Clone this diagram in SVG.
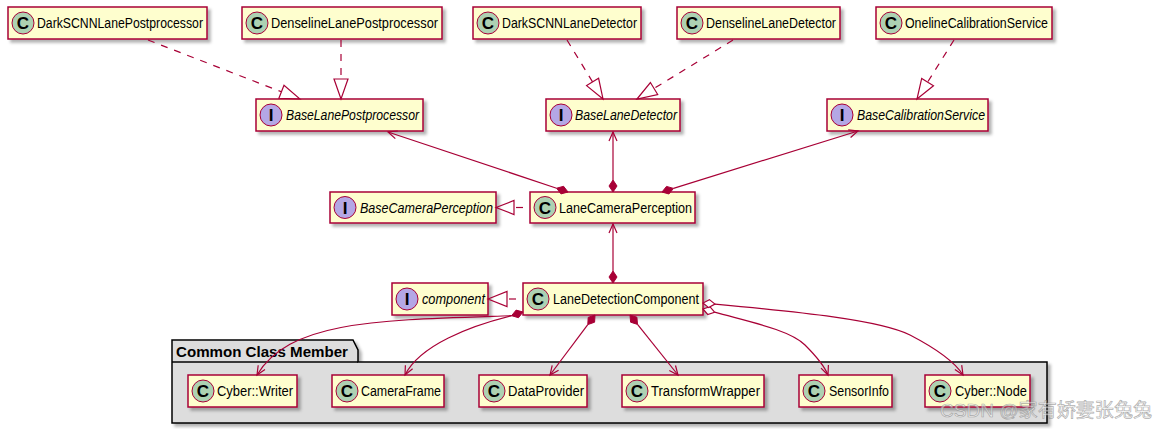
<svg xmlns="http://www.w3.org/2000/svg" width="1167" height="429" viewBox="0 0 1167 429">
<style>
.box{fill:#FEFECE;stroke:#A80036;stroke-width:1.5;filter:url(#sh)}
.sc{fill:#ADD1B2;stroke:#A80036;stroke-width:1}
.si{fill:#B4A7E5;stroke:#A80036;stroke-width:1}
.sl{font-family:"Liberation Sans",Arial,sans-serif;font-weight:bold;font-size:17px;text-anchor:middle;fill:#000}
.lb{font-family:"Liberation Sans",Arial,sans-serif;font-size:14px;fill:#000}
.it{font-style:italic}
.ln{fill:none;stroke:#A80036;stroke-width:1.2}
.da{stroke-dasharray:7 7}
.tri{fill:none;stroke:#A80036;stroke-width:1.2}
.dia{fill:#A80036;stroke:#A80036;stroke-width:1}
.hdia{fill:#FFFFFF;stroke:#A80036;stroke-width:1.2}
.pkg{fill:#DDDDDD;stroke:#000;stroke-width:1.5;filter:url(#sh)}
.pl{font-family:"Liberation Sans",Arial,sans-serif;font-weight:bold;font-size:15px;fill:#000}
</style>
<defs>
<filter id="sh" x="-10%" y="-20%" width="130%" height="160%">
<feDropShadow dx="3" dy="3" stdDeviation="1.6" flood-color="#000" flood-opacity="0.3"/>
</filter>
</defs>
<rect width="1167" height="429" fill="#FFFFFF"/>

<g id="pkg-common">
<path class="pkg" d="M172,362 L172,340 L353,340 L358,350 L358,362 L1047,362 L1047,423 L172,423 Z"/>
<line x1="172" y1="362" x2="358" y2="362" stroke="#000" stroke-width="1.5"/>
<text class="pl" x="176" y="356.5" textLength="172" lengthAdjust="spacingAndGlyphs">Common Class Member</text>
</g>

<g id="n-DarkSCNNLanePostprocessor"><rect class="box" x="8" y="7" width="199" height="32"/><circle class="sc" cx="23" cy="23" r="11"/><text class="sl" x="23" y="29">C</text><text class="lb" x="37" y="28" textLength="166" lengthAdjust="spacingAndGlyphs">DarkSCNNLanePostprocessor</text></g>
<g id="n-DenselineLanePostprocessor"><rect class="box" x="242" y="7" width="200" height="32"/><circle class="sc" cx="257" cy="23" r="11"/><text class="sl" x="257" y="29">C</text><text class="lb" x="271" y="28" textLength="167" lengthAdjust="spacingAndGlyphs">DenselineLanePostprocessor</text></g>
<g id="n-DarkSCNNLaneDetector"><rect class="box" x="473" y="7" width="168" height="32"/><circle class="sc" cx="488" cy="23" r="11"/><text class="sl" x="488" y="29">C</text><text class="lb" x="502" y="28" textLength="135" lengthAdjust="spacingAndGlyphs">DarkSCNNLaneDetector</text></g>
<g id="n-DenselineLaneDetector"><rect class="box" x="677" y="7" width="163" height="32"/><circle class="sc" cx="692" cy="23" r="11"/><text class="sl" x="692" y="29">C</text><text class="lb" x="706" y="28" textLength="130" lengthAdjust="spacingAndGlyphs">DenselineLaneDetector</text></g>
<g id="n-OnelineCalibrationService"><rect class="box" x="876" y="7" width="176" height="32"/><circle class="sc" cx="891" cy="23" r="11"/><text class="sl" x="891" y="29">C</text><text class="lb" x="905" y="28" textLength="143" lengthAdjust="spacingAndGlyphs">OnelineCalibrationService</text></g>

<g id="n-BaseLanePostprocessor"><rect class="box" x="256" y="99" width="167" height="32"/><circle class="si" cx="271" cy="115" r="11"/><text class="sl" x="271" y="121">I</text><text class="lb it" x="286" y="120" textLength="133" lengthAdjust="spacingAndGlyphs">BaseLanePostprocessor</text></g>
<g id="n-BaseLaneDetector"><rect class="box" x="546" y="99" width="134" height="32"/><circle class="si" cx="561" cy="115" r="11"/><text class="sl" x="561" y="121">I</text><text class="lb it" x="575" y="120" textLength="102" lengthAdjust="spacingAndGlyphs">BaseLaneDetector</text></g>
<g id="n-BaseCalibrationService"><rect class="box" x="827" y="99" width="161" height="32"/><circle class="si" cx="842" cy="115" r="11"/><text class="sl" x="842" y="121">I</text><text class="lb it" x="857" y="120" textLength="128" lengthAdjust="spacingAndGlyphs">BaseCalibrationService</text></g>

<g id="n-BaseCameraPerception"><rect class="box" x="330" y="192" width="166" height="31"/><circle class="si" cx="345" cy="207.5" r="11"/><text class="sl" x="345" y="213.5">I</text><text class="lb it" x="360" y="212.5" textLength="133" lengthAdjust="spacingAndGlyphs">BaseCameraPerception</text></g>
<g id="n-LaneCameraPerception"><rect class="box" x="530" y="192" width="165" height="31"/><circle class="sc" cx="545" cy="207.5" r="11"/><text class="sl" x="545" y="213.5">C</text><text class="lb" x="559" y="212.5" textLength="133" lengthAdjust="spacingAndGlyphs">LaneCameraPerception</text></g>

<g id="n-component"><rect class="box" x="392" y="283" width="96" height="32"/><circle class="si" cx="407" cy="299" r="11"/><text class="sl" x="407" y="305">I</text><text class="lb it" x="422" y="304" textLength="63" lengthAdjust="spacingAndGlyphs">component</text></g>
<g id="n-LaneDetectionComponent"><rect class="box" x="523" y="283" width="180" height="32"/><circle class="sc" cx="538" cy="299" r="11"/><text class="sl" x="538" y="305">C</text><text class="lb" x="553" y="304" textLength="146" lengthAdjust="spacingAndGlyphs">LaneDetectionComponent</text></g>

<g id="n-CyberWriter"><rect class="box" x="188" y="375" width="109" height="32"/><circle class="sc" cx="203" cy="391" r="11"/><text class="sl" x="203" y="397">C</text><text class="lb" x="217" y="396" textLength="76" lengthAdjust="spacingAndGlyphs">Cyber::Writer</text></g>
<g id="n-CameraFrame"><rect class="box" x="332" y="375" width="112" height="32"/><circle class="sc" cx="347" cy="391" r="11"/><text class="sl" x="347" y="397">C</text><text class="lb" x="361" y="396" textLength="80" lengthAdjust="spacingAndGlyphs">CameraFrame</text></g>
<g id="n-DataProvider"><rect class="box" x="479" y="375" width="108" height="32"/><circle class="sc" cx="494" cy="391" r="11"/><text class="sl" x="494" y="397">C</text><text class="lb" x="508" y="396" textLength="76" lengthAdjust="spacingAndGlyphs">DataProvider</text></g>
<g id="n-TransformWrapper"><rect class="box" x="622" y="375" width="142" height="32"/><circle class="sc" cx="637" cy="391" r="11"/><text class="sl" x="637" y="397">C</text><text class="lb" x="651" y="396" textLength="109" lengthAdjust="spacingAndGlyphs">TransformWrapper</text></g>
<g id="n-SensorInfo"><rect class="box" x="799" y="375" width="93" height="32"/><circle class="sc" cx="814" cy="391" r="11"/><text class="sl" x="814" y="397">C</text><text class="lb" x="829" y="396" textLength="60" lengthAdjust="spacingAndGlyphs">SensorInfo</text></g>
<g id="n-CyberNode"><rect class="box" x="925" y="375" width="105" height="32"/><circle class="sc" cx="940" cy="391" r="11"/><text class="sl" x="940" y="397">C</text><text class="lb" x="955" y="396" textLength="72" lengthAdjust="spacingAndGlyphs">Cyber::Node</text></g>

<g id="connectors">
<path class="ln da" d="M148,40 L281.4,91.8"/><polygon class="tri" points="300,99 278.9,98.3 284,85.3"/>
<path class="ln da" d="M341,40 L341,79"/><polygon class="tri" points="341,99 334,79 348,79"/>
<path class="ln da" d="M567,40 L592.6,81.9"/><polygon class="tri" points="603,99 586.6,85.6 598.6,78.3"/>
<path class="ln da" d="M733,40 L654,88.5"/><polygon class="tri" points="637,99 650.4,82.5 657.7,94.5"/>
<path class="ln da" d="M954,40 L927.6,82.1"/><polygon class="tri" points="917,99 921.7,78.4 933.5,85.8"/>
<path class="ln da" style="stroke-dashoffset:7" d="M530,207.5 L514,207.5"/><polygon class="tri" points="496,207.5 514,200.5 514,214.5"/>
<path class="ln da" style="stroke-dashoffset:7" d="M523,299 L507,299"/><polygon class="tri" points="488,299 507,291.5 507,306.5"/>
<path class="ln" d="M556.6,188.2 L388,132"/><polyline class="ln" points="397.8,131 388,132 395.3,138.6"/><polygon class="dia" points="568,192 563.6,186.3 556.6,188.2 561,193.9"/>
<path class="ln" d="M613,180 L613,132"/><polyline class="ln" points="609,141 613,132 617,141"/><polygon class="dia" points="613,192 617,186 613,180 609,186"/>
<path class="ln" d="M673.5,188.4 L858,131"/><polyline class="ln" points="850.6,137.5 858,131 848.2,129.9"/><polygon class="dia" points="662,192 668.9,194 673.5,188.4 666.5,186.4"/>
<path class="ln" d="M613,271 L613,224"/><polyline class="ln" points="609,233 613,224 617,233"/><polygon class="dia" points="613,283 617,277 613,271 609,277"/>
<path class="ln" d="M511.6,315.7 C380,320 290,320 257,375"/><polyline class="ln" points="258.2,365.2 257,375 265,369.4"/>
<path class="ln" d="M511.6,315.7 C470,326 420,345 405,375"/><polyline class="ln" points="405.4,365.2 405,375 412.6,368.8"/>
<polygon class="dia" points="523,312 518.5,317.7 511.6,315.7 516.1,310.1"/>
<path class="ln" d="M587.8,324.6 L550,375"/><polyline class="ln" points="552.2,365.4 550,375 558.6,370.2"/><polygon class="dia" points="595,315 594.6,322.2 587.8,324.6 588.2,317.4"/>
<path class="ln" d="M637.5,324.4 L678,375"/><polyline class="ln" points="669.3,370.5 678,375 675.5,365.5"/><polygon class="dia" points="630,315 630.6,322.2 637.5,324.4 636.9,317.2"/>
<path class="ln" d="M714.6,312.2 C750,322 790,330 805,345 C815,355 824,365 828,375"/><polyline class="ln" points="821,368.1 828,375 828.4,365.1"/><polygon class="hdia" points="703,309 707.7,314.5 714.6,312.2 709.9,306.7"/>
<path class="ln" d="M715,304.1 C800,312 880,320 910,335 C935,348 955,362 963,375"/><polyline class="ln" points="954.9,369.4 963,375 961.7,365.2"/><polygon class="hdia" points="703,303 708.6,307.6 715,304.1 709.4,299.6"/>
</g>

<text x="940" y="417" font-family="'Liberation Sans','Noto Sans CJK SC',sans-serif" font-size="19" fill="#FFFFFF" fill-opacity="0.5" stroke="#8A8A8A" stroke-width="0.7" stroke-opacity="0.7" textLength="212" lengthAdjust="spacingAndGlyphs">CSDN @家有娇妻张兔兔</text>
</svg>
